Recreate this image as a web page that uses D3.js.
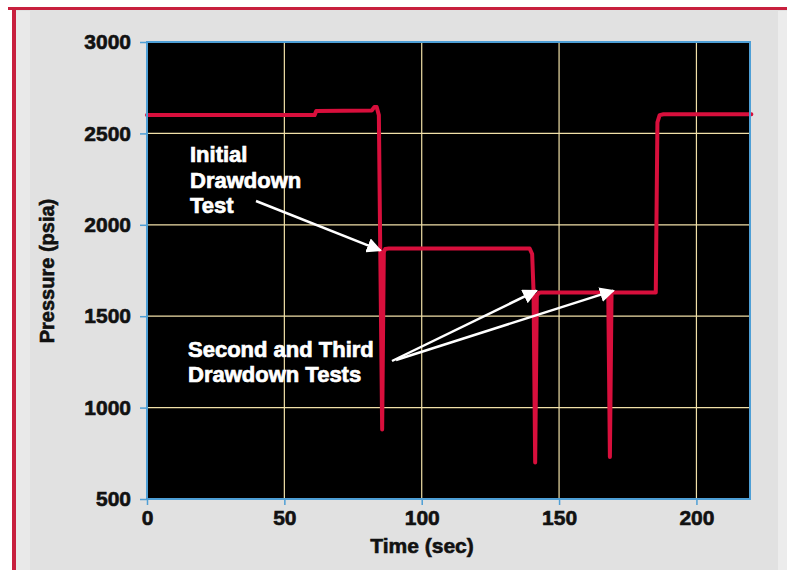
<!DOCTYPE html>
<html>
<head>
<meta charset="utf-8">
<script src="https://cdn.jsdelivr.net/npm/d3@7"></script>
<style>
  html, body { margin: 0; padding: 0; background: #ffffff; }
  svg { display: block; }
  text { font-family: "Liberation Sans", Arial, sans-serif; font-weight: bold; }
</style>
</head>
<body>
<svg id="chart" width="787" height="570"></svg>
<script>
// Pressure record: time (sec) and pressure (psia)
const timeSec = [0, 61, 61.6, 81.8, 82.8, 83.6, 84.4, 84.9, 85.6, 86.2, 86.7, 88,
                 139.3, 140.2, 140.7, 141.3, 141.9, 142.6, 143.6,
                 167.4, 167.9, 168.5, 169.1, 169.6, 185.2, 185.8, 186.6, 188, 220];
const pressurePsia = [2600, 2600, 2622, 2625, 2645, 2645, 2600, 1870, 880, 1850, 1868, 1870,
                      1870, 1840, 1640, 700, 1610, 1628, 1630,
                      1630, 1625, 730, 1625, 1630, 1630, 2560, 2600, 2605, 2605];

const xTicks = [0, 50, 100, 150, 200];
const yTicks = [500, 1000, 1500, 2000, 2500, 3000];
const xGrid = [50, 100, 150, 200];
const yGrid = [1000, 1500, 2000, 2500];

const initialLabel = ["Initial", "Drawdown", "Test"];
const laterLabel = ["Second and Third", "Drawdown Tests"];

const W = 787, H = 570;
const plot = { left: 147, right: 750, top: 42, bottom: 499 };

const svg = d3.select("#chart");

// Page backdrop with red frame
svg.append("rect").attr("x", 0).attr("y", 0).attr("width", W).attr("height", H).attr("fill", "#ffffff");
svg.append("rect").attr("x", 14).attr("y", 9).attr("width", W - 14).attr("height", H - 9).attr("fill", "#e1e1e1");
svg.append("rect").attr("x", 16).attr("y", 11).attr("width", 14).attr("height", H - 11).attr("fill", "#e9e9e9");
svg.append("rect").attr("x", 778).attr("y", 11).attr("width", 9).attr("height", H - 11).attr("fill", "#ececec");
svg.append("line").attr("x1", 8).attr("x2", W).attr("y1", 8.5).attr("y2", 8.5)
  .attr("stroke", "#c8203e").attr("stroke-width", 3);
svg.append("line").attr("x1", 14).attr("x2", 14).attr("y1", 7).attr("y2", H)
  .attr("stroke", "#c8203e").attr("stroke-width", 4);

const x = d3.scaleLinear().domain([0, 219.5]).range([plot.left, plot.right]);
const y = d3.scaleLinear().domain([500, 3000]).range([plot.bottom, plot.top]);

// Plot background
svg.append("rect")
  .attr("x", plot.left).attr("y", plot.top)
  .attr("width", plot.right - plot.left).attr("height", plot.bottom - plot.top)
  .attr("fill", "#000000");

// Grid lines
const gridColor = "#f1e0a8";
svg.append("g").selectAll("line").data(xGrid).join("line")
  .attr("x1", d => x(d)).attr("x2", d => x(d))
  .attr("y1", plot.top).attr("y2", plot.bottom)
  .attr("stroke", gridColor).attr("stroke-width", 1.2);
svg.append("g").selectAll("line").data(yGrid).join("line")
  .attr("x1", plot.left).attr("x2", plot.right)
  .attr("y1", d => y(d)).attr("y2", d => y(d))
  .attr("stroke", gridColor).attr("stroke-width", 1.2);

// Pressure trace
const pts = timeSec.map((t, i) => [t, pressurePsia[i]]);
const line = d3.line().x(d => x(d[0])).y(d => y(d[1]));
svg.append("path")
  .attr("d", line(pts))
  .attr("fill", "none")
  .attr("stroke", "#d80f3c")
  .attr("stroke-width", 4)
  .attr("stroke-linejoin", "round")
  .attr("stroke-linecap", "round");

// Plot frame
svg.append("rect")
  .attr("x", plot.left).attr("y", plot.top)
  .attr("width", plot.right - plot.left).attr("height", plot.bottom - plot.top)
  .attr("fill", "none").attr("stroke", "#4e9fd6").attr("stroke-width", 2);

// Axes
const axisColor = "#4e9fd6";
const yAxis = svg.append("g").attr("transform", `translate(${plot.left},0)`)
  .call(d3.axisLeft(y).tickValues(yTicks).tickSize(7).tickPadding(9).tickFormat(d3.format("d")));
const xAxis = svg.append("g").attr("transform", `translate(0,${plot.bottom})`)
  .call(d3.axisBottom(x).tickValues(xTicks).tickSize(6).tickPadding(5).tickFormat(d3.format("d")));
[yAxis, xAxis].forEach(g => {
  g.select(".domain").remove();
  g.selectAll(".tick line").attr("stroke", axisColor).attr("stroke-width", 1.5);
  g.selectAll(".tick text").attr("fill", "#111").attr("stroke", "#111").attr("stroke-width", 0.6)
    .style("font-size", "21px")
    .style("font-family", "'Liberation Sans', Arial, sans-serif").style("font-weight", "bold");
});

// Axis titles
svg.append("text")
  .attr("x", 422).attr("y", 553)
  .attr("text-anchor", "middle").attr("fill", "#111").attr("stroke", "#111").attr("stroke-width", 0.6)
  .style("font-size", "21px")
  .text("Time (sec)");
svg.append("text")
  .attr("transform", "translate(54,271) rotate(-90)")
  .attr("text-anchor", "middle").attr("fill", "#111").attr("stroke", "#111").attr("stroke-width", 0.6)
  .style("font-size", "20px")
  .text("Pressure (psia)");

// Annotations
const ann = svg.append("g").attr("fill", "#ffffff").attr("stroke", "#ffffff").attr("stroke-width", 0.7)
  .style("font-size", "22px");
initialLabel.forEach((s, i) => {
  ann.append("text").attr("x", 190).attr("y", 162 + i * 25.5).text(s);
});
laterLabel.forEach((s, i) => {
  ann.append("text").attr("x", 188).attr("y", 357 + i * 24.5).text(s);
});

// Arrows
const defs = svg.append("defs");
defs.append("marker")
  .attr("id", "head").attr("viewBox", "0 0 10 10")
  .attr("refX", 9).attr("refY", 5)
  .attr("markerWidth", 6).attr("markerHeight", 6)
  .attr("markerUnits", "strokeWidth")
  .attr("orient", "auto")
  .append("path").attr("d", "M0,0 L10,5 L0,10 Z").attr("fill", "#ffffff");

const arrows = [
  { x1: 256, y1: 201, t: 85.0, p: 1860 },
  { x1: 392, y1: 361, t: 141.8, p: 1640 },
  { x1: 396, y1: 360, t: 169.8, p: 1640 }
];
svg.append("g").selectAll("line").data(arrows).join("line")
  .attr("x1", d => d.x1).attr("y1", d => d.y1)
  .attr("x2", d => x(d.t)).attr("y2", d => y(d.p))
  .attr("stroke", "#ffffff").attr("stroke-width", 2.5)
  .attr("marker-end", "url(#head)");
</script>
</body>
</html>
